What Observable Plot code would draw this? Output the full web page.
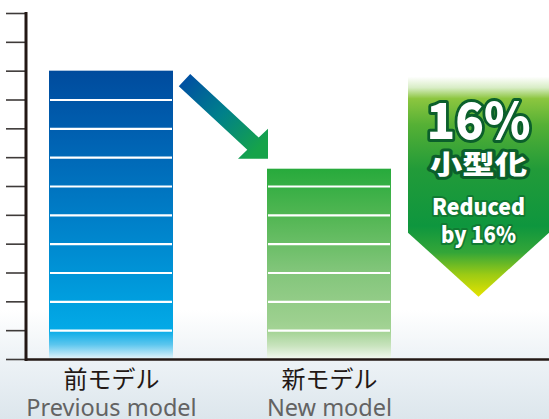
<!DOCTYPE html>
<html><head><meta charset="utf-8">
<script src="https://cdn.jsdelivr.net/npm/d3@7"></script>
<script src="https://cdn.jsdelivr.net/npm/@observablehq/plot@0.6"></script>
<style>html,body{margin:0;padding:0;background:#fff;overflow:hidden}</style>
</head><body><div id="chart"></div>
<script>
// ---- data ----
const models = ["prev", "new"];
const labelsJa = ["前モデル", "新モデル"];
const labelsEn = ["Previous model", "New model"];
const sizes = [10, 6.6];
const yTicks = d3.range(0, 13);
const badgeLines = ["16%", "小型化", "Reduced", "by 16%"];

const data = models.map((m, i) => ({model: m, value: sizes[i]}));
const stripes = data.flatMap(d => d3.range(1, Math.ceil(d.value)).map(v => ({model: d.model, v})));

const W = 549, H = 419;

function bandwidthOf(sx) {
  if (typeof sx.bandwidth === "function") return sx.bandwidth();
  if (typeof sx.bandwidth === "number") return sx.bandwidth;
  return (sx(models[1]) - sx(models[0])) * 0.57;
}

// background + gradient definitions
function backdrop(index, scales, values, dim) {
  const g = d3.create("svg:g");
  const defs = g.append("defs");
  const lin = (id, stops) => {
    const lg = defs.append("linearGradient").attr("id", id)
      .attr("x1", 0).attr("y1", 0).attr("x2", 0).attr("y2", 1);
    for (const [o, c] of stops) lg.append("stop").attr("offset", o).attr("stop-color", c);
  };
  lin("gPrev", [[0, "#004b9d"], [0.25, "#0063b3"], [0.55, "#0083cb"], [0.8, "#009fdf"],
                [0.9, "#03aae7"], [0.95, "#5cc6ee"], [1, "#e6f5fb"]]);
  lin("gNew", [[0, "#27aa3c"], [0.25, "#52b653"], [0.55, "#84c67c"], [0.8, "#9dd08f"],
               [0.86, "#a6d497"], [0.93, "#c8e3bd"], [1, "#f4f9f1"]]);
  lin("gBadge", [[0, "#ffffff"], [0.05, "#d8edc6"], [0.1, "#8cc63f"], [0.22, "#55b035"],
                 [0.42, "#229b39"], [0.68, "#0e963e"], [0.8, "#34a638"], [0.9, "#9ccb14"], [1, "#e5e300"]]);
  lin("gBg", [[0, "#ffffff"], [0.74, "#ffffff"], [0.83, "#f1f5f8"], [0.92, "#e6edf2"], [1, "#dce6ec"]]);
  g.append("rect").attr("width", dim.width).attr("height", dim.height).attr("fill", "url(#gBg)");
  return g.node();
}

// arrow between bar tops and reduction badge
function annotations(index, scales, values, dim) {
  const sx = scales.x, sy = scales.y;
  const bw = bandwidthOf(sx);
  const prevRight = sx(models[0]) + bw, newLeft = sx(models[1]);
  const yPrev = sy(sizes[0]), yNew = sy(sizes[1]);
  const g = d3.create("svg:g");
  const defs = g.append("defs");

  // arrow
  const T = [prevRight + 11.5, yPrev + 9.5];
  const P = [newLeft + 1, yNew - 10];
  const head = 30, half = 8.4;
  const A = [P[0], P[1] - head], B = [P[0] - head, P[1]];
  const M = [(A[0] + B[0]) / 2, (A[1] + B[1]) / 2];
  const len = Math.hypot(M[0] - T[0], M[1] - T[1]);
  const u = [(M[0] - T[0]) / len, (M[1] - T[1]) / len];
  const n = [-u[1] * half, u[0] * half];
  const ag = defs.append("linearGradient").attr("id", "gArrow").attr("gradientUnits", "userSpaceOnUse")
    .attr("x1", T[0]).attr("y1", T[1]).attr("x2", P[0] - 10).attr("y2", P[1] - 10);
  ag.append("stop").attr("offset", 0).attr("stop-color", "#0050a2");
  ag.append("stop").attr("offset", 0.5).attr("stop-color", "#00808a");
  ag.append("stop").attr("offset", 1).attr("stop-color", "#16a34a");
  const pts = [[T[0] - n[0], T[1] - n[1]], [M[0] - n[0], M[1] - n[1]], A, P, B,
               [M[0] + n[0], M[1] + n[1]], [T[0] + n[0], T[1] + n[1]]];
  g.append("polygon").attr("points", pts.map(p => p.join(",")).join(" ")).attr("fill", "url(#gArrow)");

  // badge
  const left = newLeft + bw + 17, right = dim.width;
  const top = yPrev + 6, shoulder = top + 156, tip = top + 220;
  const cx = (left + right) / 2;
  g.append("path")
    .attr("d", `M${left},${top}H${right}V${shoulder}L${cx},${tip}L${left},${shoulder}Z`)
    .attr("fill", "url(#gBadge)");
  const specs = [
    {t: badgeLines[0], y: top + 62, fs: 50, len: 104, sw: 6, st: "#0b5f2b"},
    {t: badgeLines[1], y: top + 97, fs: 26, len: 97, sw: 6, st: "#0b5f2b"},
    {t: badgeLines[2], y: top + 138, fs: 23, len: 93, sw: 4, st: "#117a33"},
    {t: badgeLines[3], y: top + 166, fs: 23, len: 75, sw: 4, st: "#117a33"}
  ];
  for (const s of specs) {
    g.append("text").text(s.t)
      .attr("x", cx).attr("y", s.y)
      .attr("text-anchor", "middle")
      .attr("font-family", "'Noto Sans CJK JP', 'Noto Sans', sans-serif")
      .attr("font-weight", 900)
      .attr("font-size", s.fs)
      .attr("textLength", s.len).attr("lengthAdjust", "spacingAndGlyphs")
      .attr("fill", "#ffffff")
      .attr("stroke", s.st).attr("stroke-width", s.sw)
      .attr("stroke-linejoin", "round")
      .attr("paint-order", "stroke");
  }
  return g.node();
}

const chart = Plot.plot({
  width: W,
  height: H,
  marginTop: 13,
  marginBottom: 60,
  marginLeft: 25.5,
  marginRight: 0,
  style: {background: "transparent", fontFamily: "'Noto Sans CJK JP', sans-serif", overflow: "visible"},
  x: {type: "band", domain: models, range: [26.1, 413.7], paddingInner: 0.43, paddingOuter: 0.1},
  y: {domain: [0, 12]},
  color: {type: "ordinal", domain: models, range: ["url(#gPrev)", "url(#gNew)"]},
  marks: [
    backdrop,
    Plot.barY(data, {x: "model", y: "value", fill: "model"}),
    Plot.tickY(stripes, {x: "model", y: "v", stroke: "#ffffff", strokeWidth: 2.2, insetLeft: 1, insetRight: 1}),
    Plot.axisY({ticks: yTicks, tickSize: 19.5, tickFormat: () => "", stroke: "#3e3a39", strokeWidth: 1.6, label: null}),
    Plot.frame({anchor: "left", stroke: "#231815", strokeWidth: 3}),
    Plot.ruleY([0], {stroke: "#231815", strokeWidth: 2.5}),
    Plot.axisX({tickSize: 0, tickPadding: 11, label: null, fontSize: 24, color: "#231815",
                tickFormat: d => labelsJa[models.indexOf(d)], fontFamily: "'Noto Sans CJK JP', sans-serif"}),
    Plot.axisX({tickSize: 0, tickPadding: 40, label: null, fontSize: 23.5, color: "#636363",
                tickFormat: d => labelsEn[models.indexOf(d)], fontFamily: "'Noto Sans', sans-serif", fontWeight: 400}),
    annotations
  ]
});
document.getElementById("chart").appendChild(chart);
</script>
</body></html>
